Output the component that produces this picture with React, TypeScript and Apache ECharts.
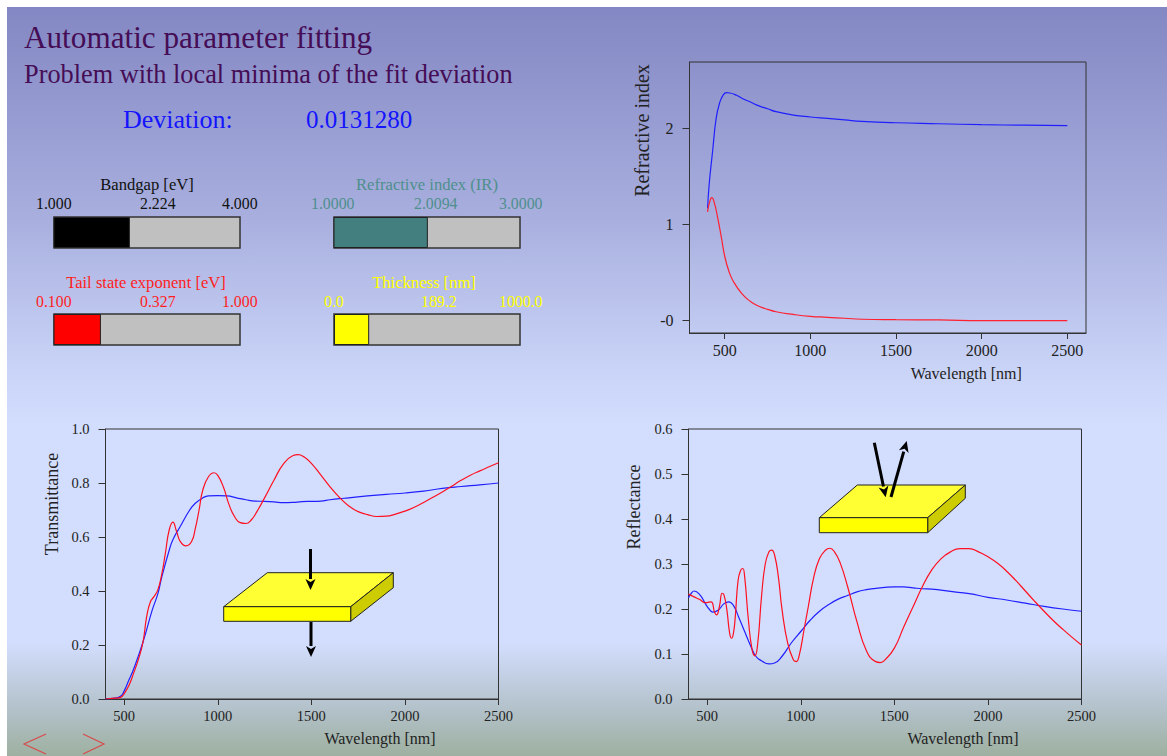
import React, { useEffect, useRef } from "react";
import * as echarts from "echarts";

const FONT = "Liberation Serif";

const tRedX = [400,450,480,500,525,550,575,600,620,640,660,680,700,720,740,760,780,800,830,860,880,900,920,950,980,1000,1030,1060,1090,1120,1150,1180,1210,1250,1300,1350,1400,1430,1460,1500,1550,1600,1650,1700,1750,1800,1850,1900,1950,2000,2050,2100,2150,2200,2250,2300,2350,2400,2450,2500];
const tRedY = [0,0.003,0.006,0.02,0.05,0.095,0.145,0.21,0.305,0.36,0.38,0.405,0.46,0.54,0.625,0.655,0.62,0.583,0.567,0.583,0.632,0.7,0.774,0.823,0.838,0.828,0.785,0.72,0.675,0.653,0.65,0.664,0.695,0.745,0.81,0.87,0.901,0.905,0.897,0.873,0.83,0.786,0.747,0.715,0.694,0.683,0.676,0.677,0.685,0.696,0.71,0.728,0.747,0.767,0.788,0.81,0.829,0.845,0.86,0.875];
const tBlueX = [400,450,480,500,525,550,600,650,680,700,740,760,800,850,880,920,950,1000,1050,1100,1150,1200,1250,1300,1350,1400,1450,1500,1550,1600,1650,1700,1800,1900,2000,2100,2200,2300,2400,2500];
const tBlueY = [0,0.003,0.01,0.03,0.07,0.11,0.21,0.33,0.39,0.45,0.55,0.59,0.64,0.7,0.725,0.745,0.752,0.753,0.752,0.745,0.738,0.733,0.732,0.73,0.727,0.728,0.731,0.732,0.733,0.738,0.742,0.745,0.752,0.758,0.763,0.77,0.78,0.787,0.793,0.8];

const rRedX = [400,430,460,490,520,540,550,565,580,590,605,620,630,640,650,665,680,690,700,720,740,755,770,790,810,830,845,860,880,900,930,960,975,990,1020,1040,1070,1100,1130,1155,1180,1210,1250,1300,1350,1400,1425,1450,1500,1550,1600,1650,1700,1750,1800,1850,1900,1950,2000,2050,2100,2150,2200,2250,2300,2350,2400,2450,2500];
const rRedY = [0.233,0.227,0.221,0.214,0.216,0.192,0.187,0.205,0.235,0.231,0.198,0.146,0.135,0.146,0.183,0.264,0.287,0.29,0.272,0.176,0.109,0.096,0.124,0.227,0.3,0.327,0.331,0.32,0.272,0.198,0.124,0.087,0.083,0.094,0.16,0.205,0.272,0.312,0.33,0.335,0.327,0.303,0.25,0.172,0.108,0.083,0.081,0.087,0.113,0.16,0.205,0.25,0.287,0.312,0.327,0.334,0.334,0.327,0.316,0.302,0.284,0.263,0.24,0.217,0.195,0.174,0.155,0.137,0.12];
const rBlueX = [400,415,430,460,490,510,530,560,590,615,640,670,700,730,760,790,830,860,900,950,1000,1050,1100,1150,1200,1250,1300,1350,1400,1450,1500,1550,1600,1650,1700,1800,1900,2000,2100,2200,2300,2400,2500];
const rBlueY = [0.225,0.235,0.24,0.232,0.212,0.2,0.193,0.198,0.212,0.216,0.208,0.18,0.15,0.12,0.095,0.085,0.078,0.08,0.095,0.125,0.15,0.175,0.195,0.21,0.222,0.23,0.238,0.243,0.246,0.248,0.249,0.249,0.247,0.245,0.244,0.239,0.234,0.226,0.22,0.213,0.206,0.2,0.195];

const nX = [400,410,430,450,470,490,510,530,570,600,650,700,750,800,900,1000,1100,1200,1300,1500,1750,2000,2250,2500];
const nY = [1.166,1.43,1.77,2.1,2.26,2.34,2.367,2.364,2.34,2.31,2.27,2.23,2.2,2.17,2.135,2.115,2.1,2.085,2.07,2.055,2.045,2.035,2.03,2.025];
const kX = [400,410,425,440,460,480,500,525,550,600,650,700,750,800,900,1000,1100,1200,1300,1500,1750,2000,2500];
const kY = [1.13,1.22,1.277,1.22,1.06,0.87,0.67,0.51,0.41,0.28,0.2,0.15,0.118,0.093,0.065,0.045,0.035,0.025,0.015,0.01,0.008,0,0];

const wlTicks = [500,1000,1500,2000,2500];
const tTicks = [0,0.2,0.4,0.6,0.8,1];
const rTicks = [0,0.1,0.2,0.3,0.4,0.5,0.6];
const nTicks = [0,1,2];

const sliderNames = ["Bandgap [eV]","Refractive index (IR)","Tail state exponent [eV]","Thickness [nm]"];
const sliderMin = [1,1,0.1,0];
const sliderMax = [4,3,1,1000];
const sliderVal = [2.224,2.0094,0.327,189.2];
const sliderLabels = [["1.000","2.224","4.000"],["1.0000","2.0094","3.0000"],["0.100","0.327","1.000"],["0.0","189.2","1000.0"]];
const sliderFill = ["#000000","#447f7f","#ff0000","#ffff00"];
const sliderText = ["#111111","#4f8f8c","#ff1e1e","#ffff00"];

const zip = (xs: number[], ys: number[]) => xs.map((x, i) => [x, ys[i]]);

function plotAxes(i: number, xMin: number, xMax: number, yMin: number, yMax: number, yTicks: number[], yName: string, yShift: number, xShift: number, yFmt: (v: number) => string, fs: number, nameFs: number, nameGapY: number, nameGapX: number) {
  const txt = { fontFamily: FONT, fontSize: fs, color: "#222" };
  return {
    x: {
      type: "value", gridIndex: i, min: xMin, max: xMax, name: "Wavelength [nm]", nameLocation: "middle", nameGap: nameGapX,
      nameTextStyle: { fontFamily: FONT, fontSize: 16, color: "#222", padding: [0, 0, 0, xShift] },
      splitLine: { show: false },
      axisLine: { show: true, onZero: false, lineStyle: { color: "#333", width: 1 } },
      axisTick: { show: true, length: 6, customValues: wlTicks, lineStyle: { color: "#333" } },
      axisLabel: { ...txt, margin: 9, customValues: wlTicks, hideOverlap: false, formatter: (v: number) => String(v) },
    },
    y: {
      type: "value", gridIndex: i, min: yMin, max: yMax, name: yName, nameLocation: "middle", nameGap: nameGapY, nameRotate: 90,
      nameTextStyle: { fontFamily: FONT, fontSize: nameFs, color: "#222", padding: [0, 0, 0, yShift] },
      splitLine: { show: false },
      axisLine: { show: true, onZero: false, lineStyle: { color: "#333", width: 1 } },
      axisTick: { show: true, length: 7, customValues: yTicks, lineStyle: { color: "#333" } },
      axisLabel: { ...txt, margin: 16, customValues: yTicks, formatter: yFmt },
    },
  };
}

function slab(fx0: number, fx1: number, fy0: number, fy1: number, bx0: number, bx1: number, by0: number, by1: number) {
  const stroke = { stroke: "#222", lineWidth: 1 };
  return [
    { type: "polygon", z: 100, shape: { points: [[fx0, fy0], [bx0, by0], [bx1, by0], [fx1, fy0]] }, style: { fill: "#ffff33", ...stroke } },
    { type: "polygon", z: 100, shape: { points: [[fx1, fy0], [bx1, by0], [bx1, by1], [fx1, fy1]] }, style: { fill: "#cccc00", ...stroke } },
    { type: "rect", z: 100, shape: { x: fx0, y: fy0, width: fx1 - fx0, height: fy1 - fy0 }, style: { fill: "#ffff00", ...stroke } },
  ];
}

function arrow(x0: number, y0: number, x1: number, y1: number) {
  const dx = x1 - x0, dy = y1 - y0, len = Math.hypot(dx, dy);
  const ux = dx / len, uy = dy / len, h = 11, w = 5;
  const bx = x1 - ux * h, by = y1 - uy * h;
  return [
    { type: "line", z: 101, shape: { x1: x0, y1: y0, x2: bx, y2: by }, style: { stroke: "#000", lineWidth: 3 } },
    { type: "polygon", z: 101, shape: { points: [[x1, y1], [bx - uy * w, by + ux * w], [bx + ux * 3, by + uy * 3], [bx + uy * w, by - ux * w]] }, style: { fill: "#000" } },
  ];
}

const textEl = (text: string, x: number, y: number, fontSize: number, fill: string, align = "left") => ({
  type: "text", x, y, z: 50, style: { text, fontFamily: FONT, fontSize, fill, align, verticalAlign: "middle" },
});

export default function App() {
  const ref = useRef<HTMLDivElement>(null);
  useEffect(() => {
    const chart = echarts.init(ref.current!, null, { renderer: "svg" });
    const a0 = plotAxes(0, 294.5, 2609, -0.128, 2.686, nTicks, "Refractive index", 134, 157, (v) => (v === 0 ? "-0" : String(v)), 16, 20, 38, 32);
    const a1 = plotAxes(1, 400, 2500, 0, 1, tTicks, "Transmittance", 120, 156, (v) => v.toFixed(1), 14.5, 18, 45, 31);
    const a2 = plotAxes(2, 400, 2500, 0, 0.6, rTicks, "Reflectance", 114, 156, (v) => v.toFixed(1), 14.5, 18, 46, 31);
    const sliderX = [54, 334, 54, 334];
    const sliderY = [217, 217, 314, 314];
    const slGrids = sliderVal.map((_, i) => ({
      left: sliderX[i], top: sliderY[i], width: 186, height: 31, show: true,
      backgroundColor: "#c0c0c0", borderColor: "#333", borderWidth: 1.5,
    }));
    const slX = sliderVal.map((_, i) => ({ type: "value", gridIndex: 3 + i, min: sliderMin[i], max: sliderMax[i], show: false }));
    const slY = sliderVal.map((_, i) => ({ type: "category", gridIndex: 3 + i, data: [sliderNames[i]], show: false }));
    const slS = sliderVal.map((v, i) => ({
      type: "bar", xAxisIndex: 3 + i, yAxisIndex: 3 + i, data: [v], barWidth: "100%", silent: true,
      itemStyle: { color: sliderFill[i], borderColor: "#222", borderWidth: 1 },
    }));
    const line = (xi: number, xs: number[], ys: number[], color: string) => ({
      type: "line", xAxisIndex: xi, yAxisIndex: xi, data: zip(xs, ys), showSymbol: false, smooth: 0.5,
      lineStyle: { color, width: 1.2 }, silent: true, clip: true,
    });
    const labelX = [[36, 140, 222], [311, 414, 499], [36, 140, 222], [324, 421, 499]];
    const titleX = [147, 427, 146, 424];
    const titleY = [184, 184, 282, 282];
    const labelY = [203, 203, 301, 301];
    const sliderTexts = sliderNames.flatMap((name, i) => [
      textEl(name, titleX[i], titleY[i], 16.6, sliderText[i], "center"),
      ...sliderLabels[i].map((l, j) => textEl(l, labelX[i][j], labelY[i], 15.8, sliderText[i])),
    ]);
    chart.setOption({
      animation: false,
      backgroundColor: "transparent",
      grid: [
        { left: 689.5, top: 62, width: 396.5, height: 271, show: true, borderColor: "#333", borderWidth: 1, backgroundColor: "transparent" },
        { left: 105.5, top: 429, width: 393, height: 270, show: true, borderColor: "#333", borderWidth: 1, backgroundColor: "transparent" },
        { left: 688.5, top: 429, width: 393, height: 270, show: true, borderColor: "#333", borderWidth: 1, backgroundColor: "transparent" },
        ...slGrids,
      ],
      xAxis: [a0.x, a1.x, a2.x, ...slX],
      yAxis: [a0.y, a1.y, a2.y, ...slY],
      series: [
        line(0, nX, nY, "#2020ff"),
        line(0, kX, kY, "#ff2030"),
        line(1, tBlueX, tBlueY, "#2020ff"),
        line(1, tRedX, tRedY, "#ff1020"),
        line(2, rBlueX, rBlueY, "#2020ff"),
        line(2, rRedX, rRedY, "#ff1020"),
        ...slS,
      ],
      graphic: [
        textEl("Automatic parameter fitting", 24, 37, 31.2, "#450d55"),
        textEl("Problem with local minima of the fit deviation", 24, 74, 26.3, "#450d55"),
        textEl("Deviation:", 123, 119, 26, "#1414ff"),
        textEl("0.0131280", 306, 119, 25, "#1414ff"),
        ...sliderTexts,
        ...slab(223.7, 350.7, 606.7, 621.3, 267.3, 393.3, 572.7, 587.7),
        ...arrow(310.5, 549, 310.5, 590),
        ...arrow(311, 622, 311, 657),
        ...slab(819.3, 927.7, 517.7, 532.7, 857.3, 965.3, 485, 498.3),
        ...arrow(874.3, 442.7, 885.7, 497.3),
        ...arrow(891, 497, 906.7, 441),
        { type: "polyline", z: 50, shape: { points: [[46, 734], [24, 744], [46, 754]] }, style: { stroke: "#d84a4a", lineWidth: 1.2, fill: "none" } },
        { type: "polyline", z: 50, shape: { points: [[83, 734], [104, 744], [83, 754]] }, style: { stroke: "#d84a4a", lineWidth: 1.2, fill: "none" } },
      ],
    });
    return () => chart.dispose();
  }, []);
  return (
    <div style={{ position: "fixed", left: 0, top: 0, width: 1167, height: 756, background: "#fff", overflow: "hidden" }}>
      <div style={{ position: "absolute", left: 7, top: 7, width: 1160, height: 749, background: "linear-gradient(to bottom, #8387c3 0px, #a9b0df 215px, #c8d2f6 355px, #d3defe 420px, #d3defe 635px, #b4c2cc 700px, #9eb0a0 749px)" }} />
      <div ref={ref} style={{ position: "absolute", left: 0, top: 0, width: 1167, height: 756 }} />
    </div>
  );
}
